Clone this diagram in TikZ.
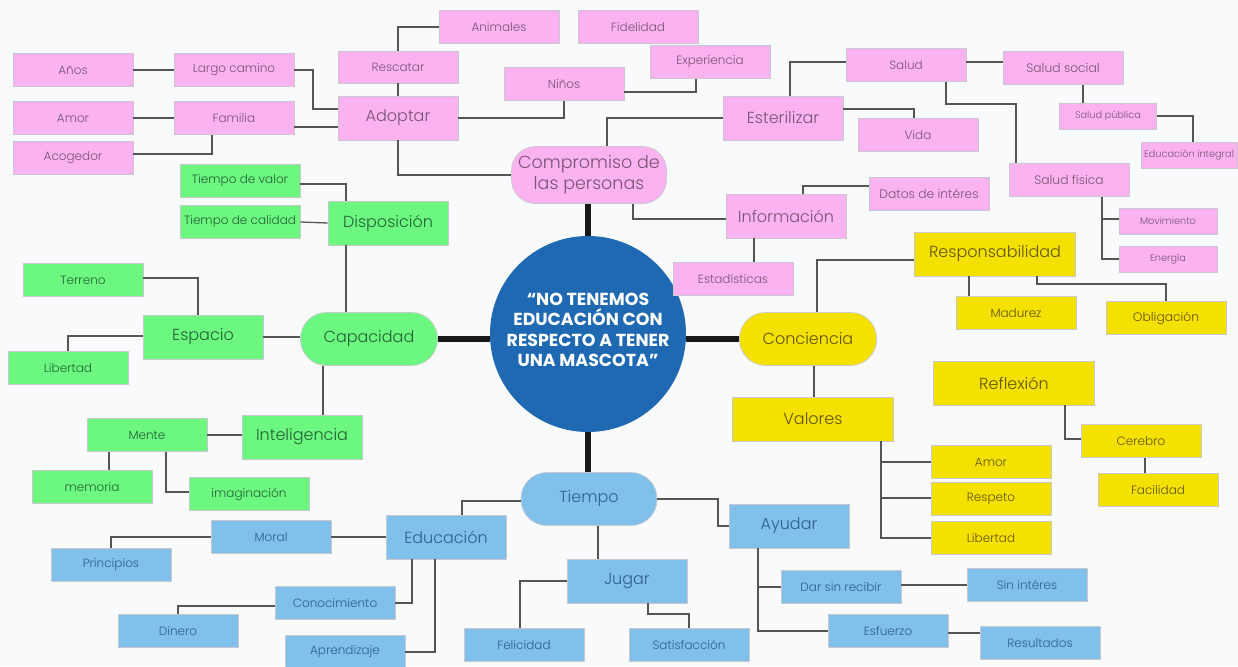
\documentclass[tikz,border=0pt]{standalone}
\usepackage{fontspec}
\setmainfont{Poppins}[UprightFont={* Light}, BoldFont={* Bold}]
\definecolor{bgc}{RGB}{248,250,252}
\definecolor{pinkc}{RGB}{250,178,240}
\definecolor{pinkt}{RGB}{120,84,116}
\definecolor{greenc}{RGB}{108,248,128}
\definecolor{greent}{RGB}{36,96,52}
\definecolor{yellowc}{RGB}{245,225,0}
\definecolor{yellowt}{RGB}{96,84,10}
\definecolor{bluec}{RGB}{128,192,235}
\definecolor{bluet}{RGB}{48,96,140}
\definecolor{hubc}{RGB}{30,105,178}
\definecolor{edgec}{RGB}{200,200,205}
\definecolor{linec}{RGB}{85,85,85}
\begin{document}
\begin{tikzpicture}[x=1pt,y=-1pt,
  box/.style={draw=edgec, line width=0.7pt, inner sep=0pt, align=center,
    minimum width=120pt, minimum height=33pt, font=\fontsize{12}{15}\selectfont},
  big/.style={minimum height=44pt, font=\fontsize{16}{20}\selectfont},
  wide/.style={minimum width=161pt},
  tiny/.style={minimum width=97pt, minimum height=26pt, font=\fontsize{9.7}{12}\selectfont},
  mid/.style={font=\fontsize{12.3}{15}\selectfont},
  pill/.style={rounded corners=26pt, minimum width=137pt, minimum height=53pt,
    font=\fontsize{16}{20}\selectfont},
  pk/.style={box, fill=pinkc, text=pinkt},
  gr/.style={box, fill=greenc, text=greent},
  ye/.style={box, fill=yellowc, text=yellowt},
  bl/.style={box, fill=bluec, text=bluet},
  conn/.style={draw=linec, line width=1.3pt},
  trunk/.style={draw=black!90, line width=5.5pt}]

% page and background
\fill[bgc] (0,0) rectangle (1238,666);
\useasboundingbox (0,0) rectangle (1238,666);

% central topic: disc and its title
\node[circle, fill=hubc, minimum size=196pt, inner sep=0pt] (hub) at (588,334) {};
\node[text=white, align=center, inner sep=0pt,
  font=\fontsize{17.4}{20.5}\selectfont\bfseries] (hubtext) at (588,330)
  {“NO TENEMOS\\EDUCACIÓN CON\\RESPECTO A TENER\\UNA MASCOTA”};

% ---------- pink branch ----------
\node[pk] (anos) at (73,70) {Años};
\node[pk] (largo) at (234,70) {Largo camino};
\node[pk] (amor) at (73,118) {Amor};
\node[pk] (familia) at (234,118) {Familia};
\node[pk] (acogedor) at (73,158) {Acogedor};
\node[pk, minimum height=32pt] (rescatar) at (398,67) {Rescatar};
\node[pk, big] (adoptar) at (398,118) {Adoptar};
\node[pk] (animales) at (499,27) {Animales};
\node[pk] (fidelidad) at (638,27) {Fidelidad};
\node[pk] (experiencia) at (710,62) {Experiencia};
\node[pk] (ninos) at (564,84) {Niños};
\node[pk, big] (esterilizar) at (783,118) {Esterilizar};
\node[pk, pill, rounded corners=24pt, minimum width=155pt, minimum height=57pt,
  font=\fontsize{17.5}{21}\selectfont] (compromiso) at (589,175) {Compromiso de\\las personas};
\node[pk] (salud) at (906,65) {Salud};
\node[pk, mid] (saludsocial) at (1063,68) {Salud social};
\node[pk] (vida) at (918,135) {Vida};
\node[pk, tiny] (saludpublica) at (1108,116) {Salud pública};
\node[pk, tiny, minimum width=96pt] (eduint) at (1189,155) {Educación integral};
\node[pk, mid] (saludfisica) at (1069,180) {Salud física};
\node[pk, tiny, minimum width=98pt] (movimiento) at (1168,221) {Movimiento};
\node[pk, tiny, minimum width=98pt] (energia) at (1168,259) {Energía};
\node[pk, big] (informacion) at (786,216) {Información};
\node[pk, mid] (datos) at (929,194) {Datos de intéres};
\node[pk] (estadisticas) at (733,279) {Estadísticas};

% ---------- green branch ----------
\node[gr] (tdv) at (240,181) {Tiempo de valor};
\node[gr] (tdc) at (240,222) {Tiempo de calidad};
\node[gr, big] (disposicion) at (388,223) {Disposición};
\node[gr] (terreno) at (83,280) {Terreno};
\node[gr, big] (espacio) at (203,337) {Espacio};
\node[gr] (libertad) at (68,368) {Libertad};
\node[gr, pill] (capacidad) at (369,339) {Capacidad};
\node[gr, big] (inteligencia) at (302,437) {Inteligencia};
\node[gr] (mente) at (147,435) {Mente};
\node[gr] (memoria) at (92,487) {memoria};
\node[gr] (imaginacion) at (249,494) {imaginación};

% ---------- yellow branch ----------
\node[ye, pill] (conciencia) at (808,339) {Conciencia};
\node[ye, big, wide] (responsabilidad) at (995,254) {Responsabilidad};
\node[ye] (madurez) at (1016,313) {Madurez};
\node[ye, mid] (obligacion) at (1166,318) {Obligación};
\node[ye, big, wide] (reflexion) at (1014,383) {Reflexión};
\node[ye, big, wide] (valores) at (813,419) {Valores};
\node[ye] (amory) at (991,462) {Amor};
\node[ye] (respeto) at (991,499) {Respeto};
\node[ye] (libertady) at (991,538) {Libertad};
\node[ye] (cerebro) at (1141,441) {Cerebro};
\node[ye] (facilidad) at (1158,490) {Facilidad};

% ---------- blue branch ----------
\node[bl, pill, minimum width=136pt] (tiempo) at (589,499) {Tiempo};
\node[bl, big] (educacion) at (446,537) {Educación};
\node[bl] (moral) at (271,537) {Moral};
\node[bl] (principios) at (111,565) {Principios};
\node[bl] (conocimiento) at (335,603) {Conocimiento};
\node[bl] (dinero) at (178,631) {Dinero};
\node[bl] (aprendizaje) at (345,652) {Aprendizaje};
\node[bl, big] (jugar) at (627,581) {Jugar};
\node[bl] (felicidad) at (524,645) {Felicidad};
\node[bl] (satisfaccion) at (689,645) {Satisfacción};
\node[bl, big] (ayudar) at (789,526) {Ayudar};
\node[bl] (dar) at (841,587) {Dar sin recibir};
\node[bl] (sinint) at (1027,585) {Sin intéres};
\node[bl] (esfuerzo) at (888,631) {Esfuerzo};
\node[bl] (resultados) at (1040,643) {Resultados};

% ---------- trunk lines ----------
\draw[trunk] (hub.north) -- (hub.north |- compromiso.south);
\draw[trunk] (hub.south) -- (hub.south |- tiempo.north);
\draw[trunk] (capacidad.east) -- (capacidad.east -| hub.west);
\draw[trunk] (conciencia.west) -- (conciencia.west -| hub.east);

% ---------- pink connectors ----------
\draw[conn] (anos.east) -- (largo.west);
\draw[conn] (largo.east) -- (313,70) |- ([yshift=9pt]adoptar.west);
\draw[conn] (amor.east) -- (familia.west);
\draw[conn] ([yshift=-9pt]familia.east) -- ([yshift=-9pt]adoptar.west);
\draw[conn] ([xshift=-22pt]familia.south) |- ([yshift=4pt]acogedor.east);
\draw[conn] (rescatar.north) |- (animales.west);
\draw[conn] (rescatar.south) -- (adoptar.north);
\draw[conn] (adoptar.south) |- (compromiso.west);
\draw[conn] (adoptar.east) -| (ninos.south);
\draw[conn] ([yshift=-8pt]ninos.east) -| ([xshift=-14pt]experiencia.south);
\draw[conn] ([xshift=18pt]compromiso.north) |- (esterilizar.west);
\draw[conn] ([xshift=44pt]compromiso.south) |- ([yshift=-3pt]informacion.west);
\draw[conn] ([xshift=7pt]esterilizar.north) |- ([yshift=3pt]salud.west);
\draw[conn] ([yshift=9pt]esterilizar.east) -| ([xshift=-4pt]vida.north);
\draw[conn] ([yshift=3pt]salud.east) -- ([yshift=3pt]salud.east -| saludsocial.west);
\draw[conn] ([xshift=40pt]salud.south) |- (1016,104) -- ([xshift=-53pt]saludfisica.north);
\draw[conn] ([xshift=20pt]saludsocial.south) -- ([xshift=20pt]saludsocial.south |- saludpublica.north);
\draw[conn] (saludpublica.east) -| ([xshift=4pt]eduint.north);
\draw[conn] ([xshift=33pt]saludfisica.south) |- ([yshift=2pt]movimiento.west);
\draw[conn] ([xshift=33pt]saludfisica.south) |- (energia.west);
\draw[conn] ([xshift=17pt]informacion.north) |- ([yshift=8pt]datos.west);
\draw[conn] ([xshift=-32pt]informacion.south) -- ([xshift=-32pt]informacion.south |- estadisticas.north);

% ---------- green connectors ----------
\draw[conn] ([xshift=-23pt]capacidad.north) -- ([xshift=-23pt]capacidad.north |- disposicion.south);
\draw[conn] ([yshift=-3pt]tdv.east) -| ([xshift=-42pt]disposicion.north);
\draw[conn] (tdc.east) -- (disposicion.west);
\draw[conn] (espacio.east) -- (espacio.east -| capacidad.west);
\draw[conn] ([yshift=2pt]terreno.east) -| ([xshift=-5pt]espacio.north);
\draw[conn] ([yshift=1pt]espacio.west) -| (libertad.north);
\draw[conn] ([xshift=-46pt]capacidad.south) -- ([xshift=-46pt]capacidad.south |- inteligencia.north);
\draw[conn] (mente.east) -- (mente.east -| inteligencia.west);
\draw[conn] ([xshift=-38pt]mente.south) -- ([xshift=-38pt]mente.south |- memoria.north);
\draw[conn] ([xshift=19pt]mente.south) |- ([yshift=2pt]imaginacion.west);

% ---------- yellow connectors ----------
\draw[conn] ([xshift=9pt]conciencia.north) |- ([yshift=-6pt]responsabilidad.west);
\draw[conn] ([xshift=6pt]conciencia.south) -- ([xshift=6pt]conciencia.south |- valores.north);
\draw[conn] ([xshift=-26pt]responsabilidad.south) -- ([xshift=-26pt]responsabilidad.south |- madurez.north);
\draw[conn] ([xshift=42pt]responsabilidad.south) |- (1166,284) -- (obligacion.north);
\draw[conn] ([xshift=68pt]valores.south) |- (amory.west);
\draw[conn] ([xshift=68pt]valores.south) |- ([yshift=1pt]respeto.west);
\draw[conn] ([xshift=68pt]valores.south) |- (libertady.west);
\draw[conn] ([xshift=51pt]reflexion.south) |- ([yshift=2pt]cerebro.west);
\draw[conn] ([xshift=4pt]cerebro.south) -- ([xshift=4pt]cerebro.south |- facilidad.north);

% ---------- blue connectors ----------
\draw[conn] ([yshift=-2pt]tiempo.west) -| ([xshift=16pt]educacion.north);
\draw[conn] (moral.east) -- (educacion.west);
\draw[conn] (moral.west) -| (principios.north);
\draw[conn] ([xshift=-34pt]educacion.south) |- (conocimiento.east);
\draw[conn] ([xshift=-11pt]educacion.south) |- (aprendizaje.east);
\draw[conn] ([yshift=-3pt]conocimiento.west) -| (dinero.north);
\draw[conn] ([xshift=9pt]tiempo.south) -- ([xshift=9pt]tiempo.south |- jugar.north);
\draw[conn] (jugar.west) -| ([xshift=-4pt]felicidad.north);
\draw[conn] ([xshift=21pt]jugar.south) |- (689,614) -- (satisfaccion.north);
\draw[conn] (tiempo.east) -| (718,526) -- (ayudar.west);
\draw[conn] ([xshift=-31pt]ayudar.south) |- (dar.west);
\draw[conn] ([xshift=-31pt]ayudar.south) |- (esfuerzo.west);
\draw[conn] ([yshift=2pt]dar.east) -- ([yshift=2pt]dar.east -| sinint.west);
\draw[conn] ([yshift=-2pt]esfuerzo.east) -- ([yshift=-2pt]esfuerzo.east -| resultados.west);
\end{tikzpicture}
\end{document}
